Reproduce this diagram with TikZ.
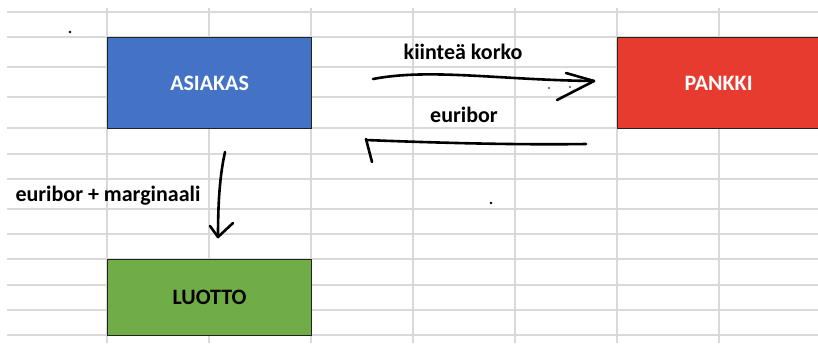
\documentclass[tikz,border=0pt]{standalone}
\usepackage{fontspec}
\setmainfont{Carlito}
\definecolor{gridc}{HTML}{D9D9D9}
\definecolor{cblue}{HTML}{4472C4}
\definecolor{cred}{HTML}{E63B2E}
\definecolor{cgreen}{HTML}{70AD47}
\definecolor{cborder}{HTML}{222222}
\tikzset{
  gridline/.style={draw=gridc, line width=1.5pt},
  cellbox/.style={draw=cborder, line width=1.2pt, rectangle, inner sep=0pt},
  boxtext/.style={font=\fontsize{22}{26}\selectfont\bfseries},
  lbl/.style={font=\fontsize{22}{26}\selectfont\bfseries, text=black, inner sep=0pt},
  hand/.style={draw=black, line width=2.6pt, line cap=round, line join=round},
  speck/.style={fill=black, draw=none}
}
\begin{document}
\begin{tikzpicture}[x=1pt, y=-1pt]
\useasboundingbox (0,0) rectangle (818,343);
\fill[white] (0,0) rectangle (818,343);
% grid
\foreach \yy in {12,37,67,97,128,154,179,209,234,259,285,310,335}
  \draw[gridline] (7,\yy) -- (818,\yy);
\foreach \xx in {107,209,311,413,515,617,719}
  \draw[gridline] (\xx,8) -- (\xx,343);
% boxes
\node[cellbox, fill=cblue, minimum width=204pt, minimum height=91pt, anchor=north west] (asiakas) at (107,37) {};
\node[boxtext, text=white] at (asiakas.center) {ASIAKAS};
\node[cellbox, fill=cred, minimum width=210pt, minimum height=91pt, anchor=north west] (pankki) at (617,37) {};
\node[boxtext, text=white] at ([xshift=-4pt]pankki.center) {PANKKI};
\node[cellbox, fill=cgreen, minimum width=204pt, minimum height=76pt, anchor=north west] (luotto) at (107,259) {};
\node[boxtext, text=black] at (luotto.center) {LUOTTO};
% labels
\node[lbl] (l1) at (463,52) {kiinteä korko};
\node[lbl] (l2) at (464,115) {euribor};
\node[lbl] (l3) at (108,196) {euribor + marginaali};
% hand-drawn arrows
\coordinate (a1s) at (373,79);
\coordinate (a1e) at (594,81);
\draw[hand] (a1s) .. controls (430,68) and (500,80) .. (a1e);
\draw[hand] (566,73) -- (a1e) -- (557,100);
\coordinate (a2s) at (586,144);
\coordinate (a2e) at (366,140);
\draw[hand] (a2s) .. controls (520,145) and (440,143) .. (a2e);
\draw[hand] (366,139) -- (372,162);
\coordinate (a3s) at (225,152);
\coordinate (a3e) at (218,237);
\draw[hand] (a3s) .. controls (220,175) and (218,200) .. (a3e);
\draw[hand] (210,226) -- (a3e) -- (233,223);
% specks
\fill[speck] (70,32) circle (1.3pt);
\fill[speck] (491,203) circle (1.3pt);
\fill[speck] (470,143) circle (1pt);
\fill[speck] (549,88) circle (0.9pt);
\fill[speck] (570,87) circle (0.9pt);
\end{tikzpicture}
\end{document}
